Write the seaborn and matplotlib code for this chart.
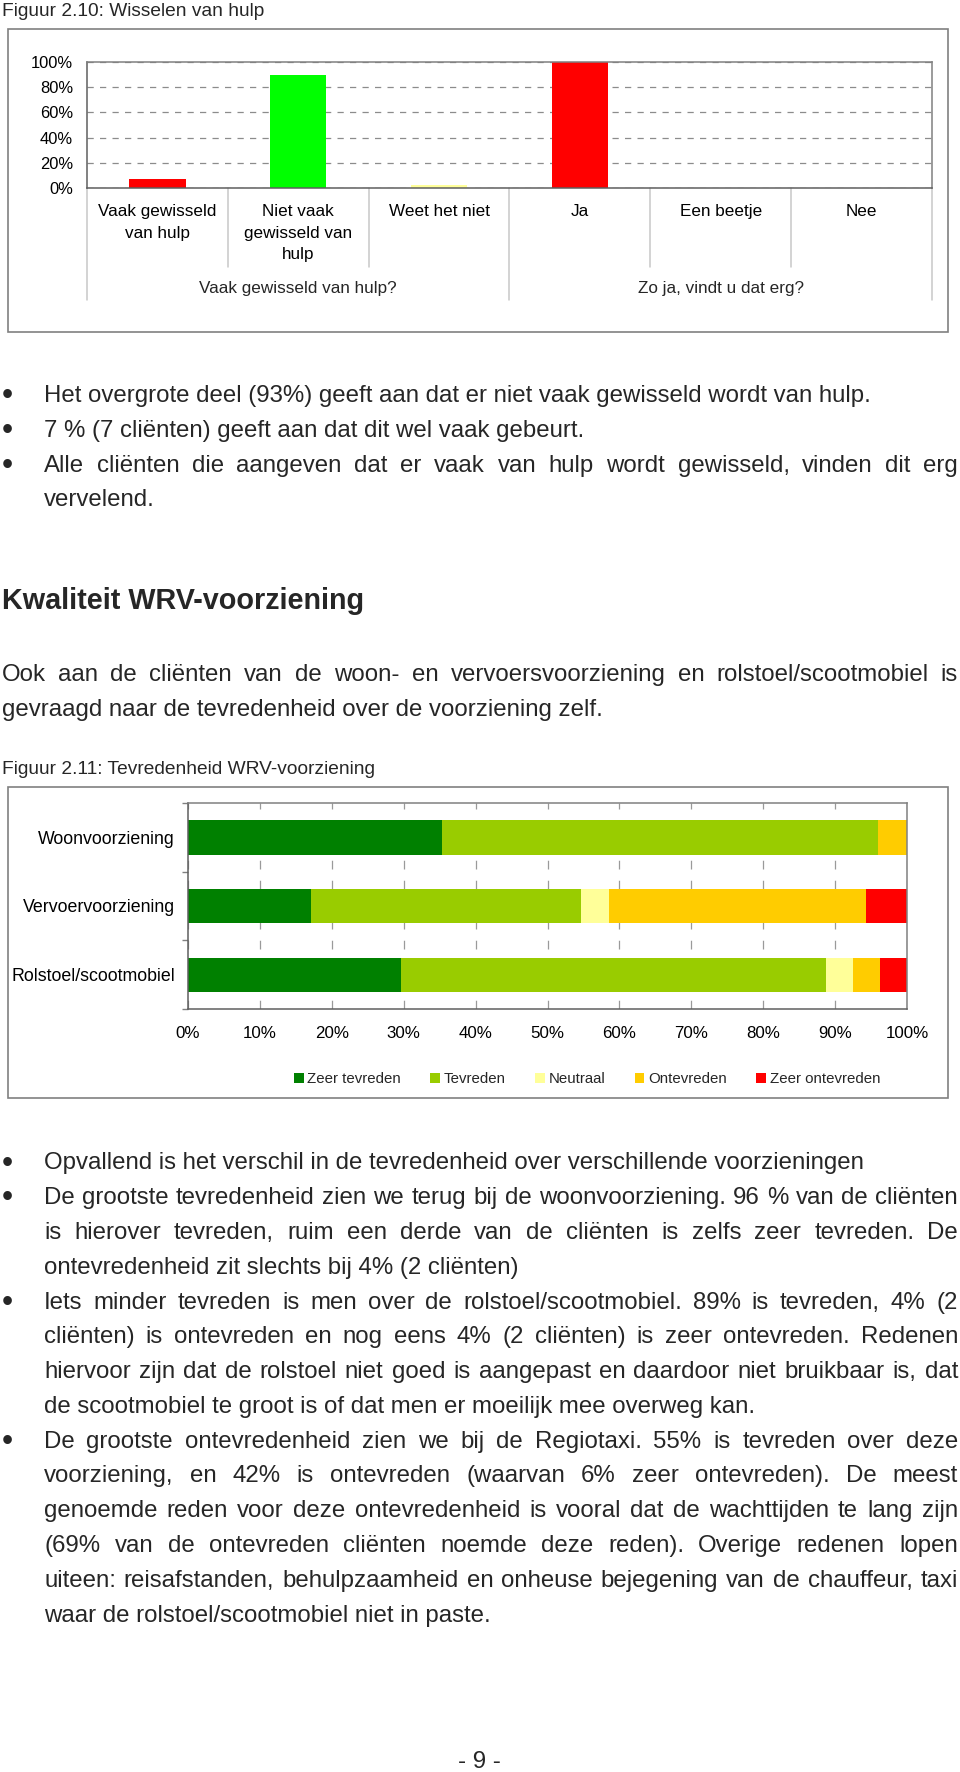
import numpy as np
import pandas as pd
import matplotlib
matplotlib.use("Agg")
import matplotlib.pyplot as plt
import matplotlib.transforms as mtrans
from matplotlib.patches import Rectangle, Patch
from matplotlib.lines import Line2D
import seaborn as sns

# ---------------- data: figure 2.10 ----------------
hulp_categories = ["Vaak gewisseld\nvan hulp", "Niet vaak\ngewisseld van\nhulp", "Weet het niet",
                   "Ja", "Een beetje", "Nee"]
hulp_values = [7, 90, 2.5, 100, 0, 0]
hulp_colors = ["#FF0000", "#00FF00", "#FFFF99", "#FF0000", "#FF0000", "#FF0000"]
group_labels = ["Vaak gewisseld van hulp?", "Zo ja, vindt u dat erg?"]
hulp_yticks = [0, 20, 40, 60, 80, 100]

# ---------------- data: figure 2.11 ----------------
voorzieningen = ["Woonvoorziening", "Vervoervoorziening", "Rolstoel/scootmobiel"]
zeer_tevreden = [35.3, 17.1, 29.6]
tevreden = [60.7, 37.5, 59.2]
neutraal = [0.0, 4.0, 3.7]
ontevreden = [4.0, 35.7, 3.8]
zeer_ontevreden = [0.0, 5.7, 3.7]
series_names = ["Zeer tevreden", "Tevreden", "Neutraal", "Ontevreden", "Zeer ontevreden"]
series_colors = ["#008000", "#99CC00", "#FFFF99", "#FFCC00", "#FF0000"]
wrv_xticks = list(range(0, 101, 10))

# ---------------- setup ----------------
sns.set_theme(style="white")
plt.rcParams["font.family"] = ["Liberation Sans", "DejaVu Sans"]
W, H = 960, 1772
fig = plt.figure(figsize=(W / 100, H / 100), dpi=100)
fig.patch.set_facecolor("white")


def fx(x):
    return x / W


def fy(y):
    return 1 - y / H


def frame(x0, y0, x1, y1):
    fig.add_artist(Rectangle((fx(x0), fy(y1)), (x1 - x0) / W, (y1 - y0) / H,
                             transform=fig.transFigure, fill=False,
                             edgecolor="#808080", lw=1.2))


# ---------------- chart 1 ----------------
fig.text(fx(2), fy(11), "Figuur 2.10: Wisselen van hulp", fontsize=13.8, va="center", ha="left")
frame(8, 29, 948, 332)

ax1 = fig.add_axes([fx(87), fy(188), (932 - 87) / W, (188 - 62) / H])
df1 = pd.DataFrame({"cat": hulp_categories, "val": hulp_values})
sns.barplot(data=df1, x="cat", y="val", hue="cat", palette=dict(zip(hulp_categories, hulp_colors)),
            width=0.4, saturation=1, legend=False, ax=ax1, linewidth=0)
ax1.set_xlim(-0.5, 5.5)
ax1.set_ylim(0, 100)
ax1.set_yticks(hulp_yticks)
ax1.set_yticklabels([f"{v}%" for v in hulp_yticks])
ax1.set_xlabel("")
ax1.set_ylabel("")
ax1.tick_params(axis="y", length=0, pad=10, labelsize=11.9, labelcolor="black")
ax1.tick_params(axis="x", length=0, pad=11.5, labelsize=12.3, labelcolor="black")
for lab in ax1.get_xticklabels():
    lab.set_linespacing(1.55)
    lab.set_verticalalignment("top")
ax1.yaxis.grid(True, linestyle=(0, (5, 5)), color="#8c8c8c", lw=0.9)
ax1.xaxis.grid(False)
ax1.set_axisbelow(True)
for side, sp in ax1.spines.items():
    sp.set_visible(True)
    sp.set_linewidth(1.1)
    sp.set_color("#5f5f5f" if side in ("left", "bottom") else "#808080")

trans1 = mtrans.blended_transform_factory(ax1.transData, ax1.transAxes)
for b in np.arange(-0.5, 6.0, 1.0):
    outer = b in (-0.5, 2.5, 5.5)
    ax1.add_line(Line2D([b, b], [0, -0.889 if outer else -0.627], transform=trans1,
                        color="#c8c8c8", lw=1.1, clip_on=False))
for xc, lab in zip([1.0, 4.0], group_labels):
    ax1.text(xc, -0.80, lab, transform=trans1, ha="center", va="center", fontsize=12.3)

# ---------------- body text ----------------
BODY = 17.3
LS = 34.77


def put_line(y, text, x0=44, x1=958, justify=False, size=BODY, **kw):
    if not justify:
        fig.text(fx(x0), fy(y), text, fontsize=size, va="center", ha="left", **kw)
        return
    words = text.split(" ")
    texts = [fig.text(0, fy(y), w, fontsize=size, va="center", ha="left", **kw) for w in words]
    r = fig.canvas.get_renderer()
    widths = [t.get_window_extent(r).width for t in texts]
    gap = (x1 - x0 - sum(widths)) / max(len(words) - 1, 1)
    x = x0
    for t, w in zip(texts, widths):
        t.set_x(fx(x))
        x += w + gap


def bullet(y):
    fig.text(fx(7.5), fy(y), "•", fontsize=23, va="center", ha="center")


block1 = [
    (True, "Het overgrote deel (93%) geeft aan dat er niet vaak gewisseld wordt van hulp.", False),
    (True, "7 % (7 cliënten) geeft aan dat dit wel vaak gebeurt.", False),
    (True, "Alle cliënten die aangeven dat er vaak van hulp wordt gewisseld, vinden dit erg", True),
    (False, "vervelend.", False),
]
y = 396
for b, txt, j in block1:
    if b:
        bullet(y)
    put_line(y, txt, justify=j)
    y += LS

fig.text(fx(2), fy(601.5), "Kwaliteit WRV-voorziening", fontsize=20.7, fontweight="bold",
         va="center", ha="left")
put_line(675, "Ook aan de cliënten van de woon- en vervoersvoorziening en rolstoel/scootmobiel is",
         x0=2, x1=958, justify=True)
put_line(710, "gevraagd naar de tevredenheid over de voorziening zelf.", x0=2)

# ---------------- chart 2 ----------------
fig.text(fx(2), fy(769), "Figuur 2.11: Tevredenheid WRV-voorziening", fontsize=13.8,
         va="center", ha="left")
frame(8, 787, 948, 1098)

ax2 = fig.add_axes([fx(188), fy(1009), (907 - 188) / W, (1009 - 803) / H])
series = [zeer_tevreden, tevreden, neutraal, ontevreden, zeer_ontevreden]
cum = np.cumsum(np.array(series, dtype=float), axis=0)
for k in range(len(series) - 1, -1, -1):
    sns.barplot(x=list(cum[k]), y=voorzieningen, orient="h", color=series_colors[k],
                saturation=1, width=0.5, linewidth=0, ax=ax2)
ax2.set_xlim(0, 100)
ax2.set_ylim(2.5, -0.5)
ax2.set_xticks(wrv_xticks)
ax2.set_xticklabels([f"{v}%" for v in wrv_xticks])
ax2.set_xlabel("")
ax2.set_ylabel("")
ax2.tick_params(axis="x", length=0, pad=12.5, labelsize=12.2, labelcolor="black")
ax2.tick_params(axis="y", which="major", length=0, pad=9.4, labelsize=12.75, labelcolor="black")
ax2.set_yticks([-0.5, 0.5, 1.5, 2.5], minor=True)
ax2.tick_params(axis="y", which="minor", length=4, width=1, direction="out", color="#808080", left=True)
ax2.xaxis.grid(True, linestyle=(0, (7, 9)), color="#9a9a9a", lw=0.9)
ax2.yaxis.grid(False)
ax2.set_axisbelow(True)
for side, sp in ax2.spines.items():
    sp.set_visible(True)
    sp.set_linewidth(1.1)
    sp.set_color("#5f5f5f" if side in ("left", "bottom") else "#808080")

handles = [Patch(facecolor=c, edgecolor="none") for c in series_colors]
fig.legend(handles, series_names, loc="center", bbox_to_anchor=(fx(587), fy(1079)), ncol=5,
           frameon=False, fontsize=10.8, handlelength=0.65, handleheight=0.65,
           handletextpad=0.25, columnspacing=1.95, borderaxespad=0, borderpad=0)

# ---------------- body text 2 ----------------
block2 = [
    (True, "Opvallend is het verschil in de tevredenheid over verschillende voorzieningen", False),
    (True, "De grootste tevredenheid zien we terug bij de woonvoorziening. 96 % van de cliënten", True),
    (False, "is hierover tevreden, ruim een derde van de cliënten is zelfs zeer tevreden. De", True),
    (False, "ontevredenheid zit slechts bij 4% (2 cliënten)", False),
    (True, "Iets minder tevreden is men over de rolstoel/scootmobiel. 89% is tevreden, 4% (2", True),
    (False, "cliënten) is ontevreden en nog eens 4% (2 cliënten) is zeer ontevreden. Redenen", True),
    (False, "hiervoor zijn dat de rolstoel niet goed is aangepast en daardoor niet bruikbaar is, dat", True),
    (False, "de scootmobiel te groot is of dat men er moeilijk mee overweg kan.", False),
    (True, "De grootste ontevredenheid zien we bij de Regiotaxi. 55% is tevreden over deze", True),
    (False, "voorziening, en 42% is ontevreden (waarvan 6% zeer ontevreden). De meest", True),
    (False, "genoemde reden voor deze ontevredenheid is vooral dat de wachttijden te lang zijn", True),
    (False, "(69% van de ontevreden cliënten noemde deze reden). Overige redenen lopen", True),
    (False, "uiteen: reisafstanden, behulpzaamheid en onheuse bejegening van de chauffeur, taxi", True),
    (False, "waar de rolstoel/scootmobiel niet in paste.", False),
]
y = 1163.5
for b, txt, j in block2:
    if b:
        bullet(y)
    put_line(y, txt, justify=j)
    y += LS

fig.text(fx(479.5), fy(1761.6), "- 9 -", fontsize=BODY, va="center", ha="center")

fig.savefig("out.png", dpi=100, facecolor="white")
